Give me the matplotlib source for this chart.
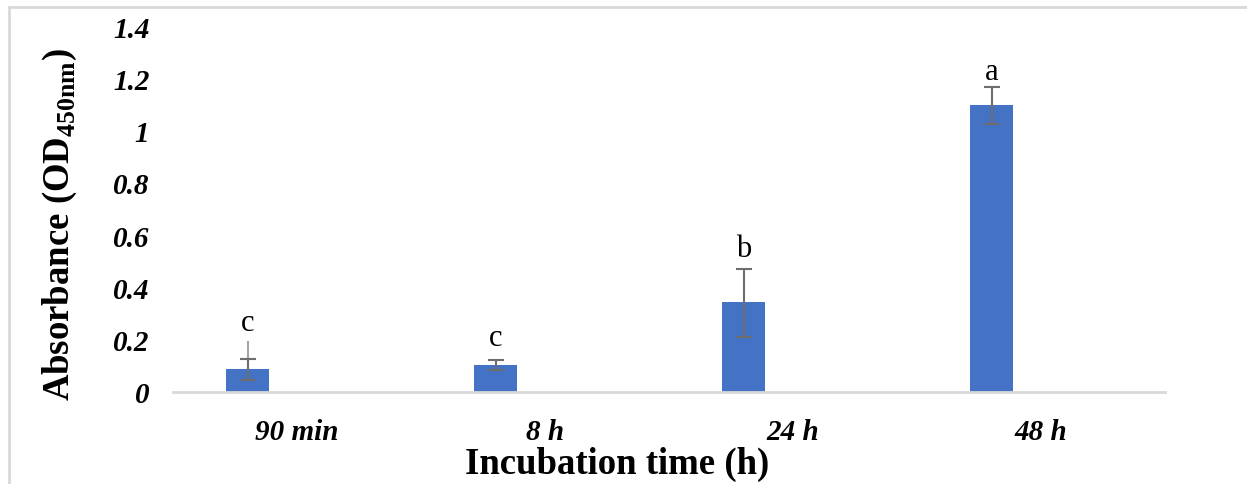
import matplotlib
matplotlib.use("Agg")
import matplotlib.pyplot as plt
from matplotlib.lines import Line2D
import numpy as np

plt.rcParams['font.family'] = ['Liberation Serif', 'DejaVu Serif']
plt.rcParams['mathtext.fontset'] = 'custom'
plt.rcParams['mathtext.rm'] = 'Liberation Serif'
plt.rcParams['mathtext.bf'] = 'Liberation Serif:bold'

# data
times = ["90 min", "8 h", "24 h", "48 h"]
means = [0.088, 0.103, 0.344, 1.098]
err_lo = [0.042, 0.019, 0.134, 0.073]
err_hi = [0.038, 0.019, 0.126, 0.069]
extra_hi = [0.107, 0.0, 0.0, 0.0]  # the faint longer whisker on the first bar
letters = ["c", "c", "b", "a"]
letter_y = [0.237, 0.18, 0.52, 1.197]
y_ticks = [0, 0.2, 0.4, 0.6, 0.8, 1, 1.2, 1.4]
y_tick_labels = ["0", "0.2", "0.4", "0.6", "0.8", "1", "1.2", "1.4"]

fig = plt.figure(figsize=(12.47, 4.85), dpi=100)
ax = fig.add_axes([0.1387, 0.1897, 0.7955, 0.7546])

x = np.arange(len(times))
bx = x - 0.198
ax.bar(bx, means, width=0.174, color="#4472C4", zorder=2)

# faint extra whisker
ax.errorbar(bx, means, yerr=[np.zeros(4), extra_hi], fmt="none",
            ecolor="#A6A6A6", elinewidth=1.5, capsize=0, zorder=3)
ax.errorbar(bx, means, yerr=[err_lo, err_hi], fmt="none",
            ecolor="#6E6E6E", elinewidth=1.5, capsize=6, capthick=1.5, zorder=4)

# significance letters
for xi, ly, l in zip(bx, letter_y, letters):
    ax.text(xi, ly, l, ha="center", va="baseline", fontsize=22)

ax.set_xlim(-0.5, 3.5)
ax.set_ylim(0, 1.4)
ax.set_yticks(y_ticks)
ax.set_yticklabels(y_tick_labels, fontsize=21, fontweight="bold", style="italic")
ax.set_xticks(x)
ax.set_xticklabels(times, fontsize=21, fontweight="bold", style="italic")
ax.tick_params(axis="y", length=0, pad=17)
ax.tick_params(axis="x", length=0, pad=19)

for s in ["top", "right", "left"]:
    ax.spines[s].set_visible(False)
ax.spines["bottom"].set_color("#D9D9D9")
ax.spines["bottom"].set_linewidth(2)

ax.set_xlabel("Incubation time (h)", fontsize=26.5, fontweight="bold")
ax.xaxis.set_label_coords(0.448, -0.1475)
ax.xaxis.label.set_va("top")
ax.set_ylabel(r"Absorbance (OD$_\mathbf{450nm}$)", fontsize=26.5, fontweight="bold")
ax.yaxis.set_label_coords(-0.114, 0.46)
ax.yaxis.label.set_va("center")

# frame around the chart area
fig.add_artist(Line2D([9 / 1247, 9 / 1247], [0, 1 - 8 / 485], color="#D9D9D9", lw=2))
fig.add_artist(Line2D([9 / 1247, 1], [1 - 8 / 485, 1 - 8 / 485], color="#D9D9D9", lw=2))

fig.savefig("out.png", dpi=100)
